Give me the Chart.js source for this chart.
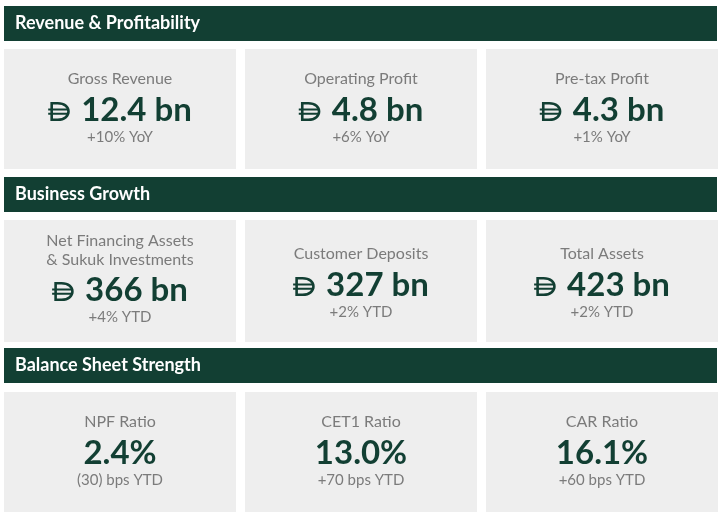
<!DOCTYPE html>
<html><head><meta charset="utf-8">
<script src="https://cdn.jsdelivr.net/npm/chart.js@4.4.1/dist/chart.umd.min.js"></script>
<style>
html,body{margin:0;padding:0;background:#fff;}
#wrap{width:720px;height:517px;position:relative;}
</style></head>
<body><div id="wrap"><canvas id="c" width="720" height="517"></canvas></div>
<script>
const sections = ["Revenue & Profitability", "Business Growth", "Balance Sheet Strength"];
const kpiLabels = [["Gross Revenue"], ["Operating Profit"], ["Pre-tax Profit"],
  ["Net Financing Assets", "& Sukuk Investments"], ["Customer Deposits"], ["Total Assets"],
  ["NPF Ratio"], ["CET1 Ratio"], ["CAR Ratio"]];
const kpiValues = [12.4, 4.8, 4.3, 366, 327, 423, 2.4, 13.0, 16.1];
const kpiDecimals = [1, 1, 1, 0, 0, 0, 1, 1, 1];
const kpiUnits = [" bn", " bn", " bn", " bn", " bn", " bn", "%", "%", "%"];
const kpiCurrency = [true, true, true, true, true, true, false, false, false];
const kpiChanges = ["+10% YoY", "+6% YoY", "+1% YoY", "+4% YTD", "+2% YTD", "+2% YTD",
  "(30) bps YTD", "+70 bps YTD", "+60 bps YTD"];

const GREEN = '#123f33';
const TILE = '#eeeeee';
const GREY = '#7b7b7b';
const FONT = 'Lato, "Noto Sans", sans-serif';

const layout = {
  headerY: [6, 177, 348], headerH: 35,
  tileY: [49, 220, 392], tileH: [120, 122, 120],
  rowShift: [0, 4, 0],
  tileX: [4, 245, 486], tileW: 232,
  left: 4, right: 717
};

function drawDirham(ctx, x, base, h, w) {
  const top = base - h;
  ctx.save();
  ctx.strokeStyle = GREEN;
  ctx.lineWidth = 2.6;
  ctx.lineJoin = 'miter';
  const sx = x + 3.5;
  const t = top + 1.3, b = base - 1.3;
  ctx.beginPath();
  ctx.moveTo(sx, t);
  ctx.lineTo(sx, b);
  ctx.lineTo(sx + w * 0.3, b);
  ctx.bezierCurveTo(sx + w * 1.02, b, sx + w * 1.02, t, sx + w * 0.3, t);
  ctx.closePath();
  ctx.stroke();
  ctx.lineWidth = 2;
  ctx.beginPath();
  const y1 = top + h * 0.4, y2 = top + h * 0.62;
  ctx.moveTo(x, y1); ctx.lineTo(x + w, y1);
  ctx.moveTo(x, y2); ctx.lineTo(x + w, y2);
  ctx.stroke();
  ctx.restore();
}

const kpiPlugin = {
  id: 'kpiTiles',
  afterDraw(chart) {
    const ctx = chart.ctx;
    ctx.save();
    ctx.fillStyle = '#fff';
    ctx.fillRect(0, 0, 720, 517);
    sections.forEach((s, r) => {
      ctx.fillStyle = GREEN;
      ctx.fillRect(layout.left, layout.headerY[r], layout.right - layout.left, layout.headerH);
      ctx.fillStyle = '#ffffff';
      ctx.font = 'bold 18px ' + FONT;
      ctx.textAlign = 'left';
      ctx.textBaseline = 'alphabetic';
      ctx.fillText(s, 15, layout.headerY[r] + 23);
    });
    kpiValues.forEach((v, i) => {
      const r = Math.floor(i / 3), c = i % 3;
      const x = layout.tileX[c], y = layout.tileY[r];
      const cx = x + layout.tileW / 2;
      ctx.fillStyle = TILE;
      ctx.fillRect(x, y, layout.tileW, layout.tileH[r]);
      const lines = kpiLabels[i];
      const two = lines.length > 1;
      const yy = y + (two ? 0 : layout.rowShift[r]);
      const labelBase = two ? yy + 26 : yy + 35;
      ctx.fillStyle = GREY;
      ctx.font = '16px ' + FONT;
      ctx.textAlign = 'center';
      lines.forEach((ln, k) => ctx.fillText(ln, cx, labelBase + k * 19));
      const valBase = two ? yy + 81 : yy + 72;
      const txt = v.toFixed(kpiDecimals[i]) + kpiUnits[i];
      ctx.font = 'bold 33px ' + FONT;
      const tw = ctx.measureText(txt).width;
      if (kpiCurrency[i]) {
        const symW = 20, gap = 13;
        const total = symW + gap + tw;
        const sx = cx - total / 2;
        drawDirham(ctx, sx, valBase, 19, symW);
        ctx.fillStyle = GREEN;
        ctx.textAlign = 'left';
        ctx.fillText(txt, sx + symW + gap, valBase);
      } else {
        ctx.fillStyle = GREEN;
        ctx.textAlign = 'center';
        ctx.fillText(txt, cx, valBase);
      }
      ctx.fillStyle = GREY;
      ctx.font = '15px ' + FONT;
      ctx.textAlign = 'center';
      ctx.fillText(kpiChanges[i], cx, valBase + 21);
    });
    ctx.restore();
  }
};

new Chart(document.getElementById('c'), {
  type: 'bar',
  data: { labels: kpiLabels.map(l => l.join(' ')), datasets: [{ data: kpiValues, backgroundColor: 'rgba(0,0,0,0)' }] },
  options: {
    responsive: false, animation: false,
    plugins: { legend: { display: false }, tooltip: { enabled: false } },
    scales: { x: { display: false }, y: { display: false } },
    layout: { padding: 0 }
  },
  plugins: [kpiPlugin]
});
</script></body></html>
